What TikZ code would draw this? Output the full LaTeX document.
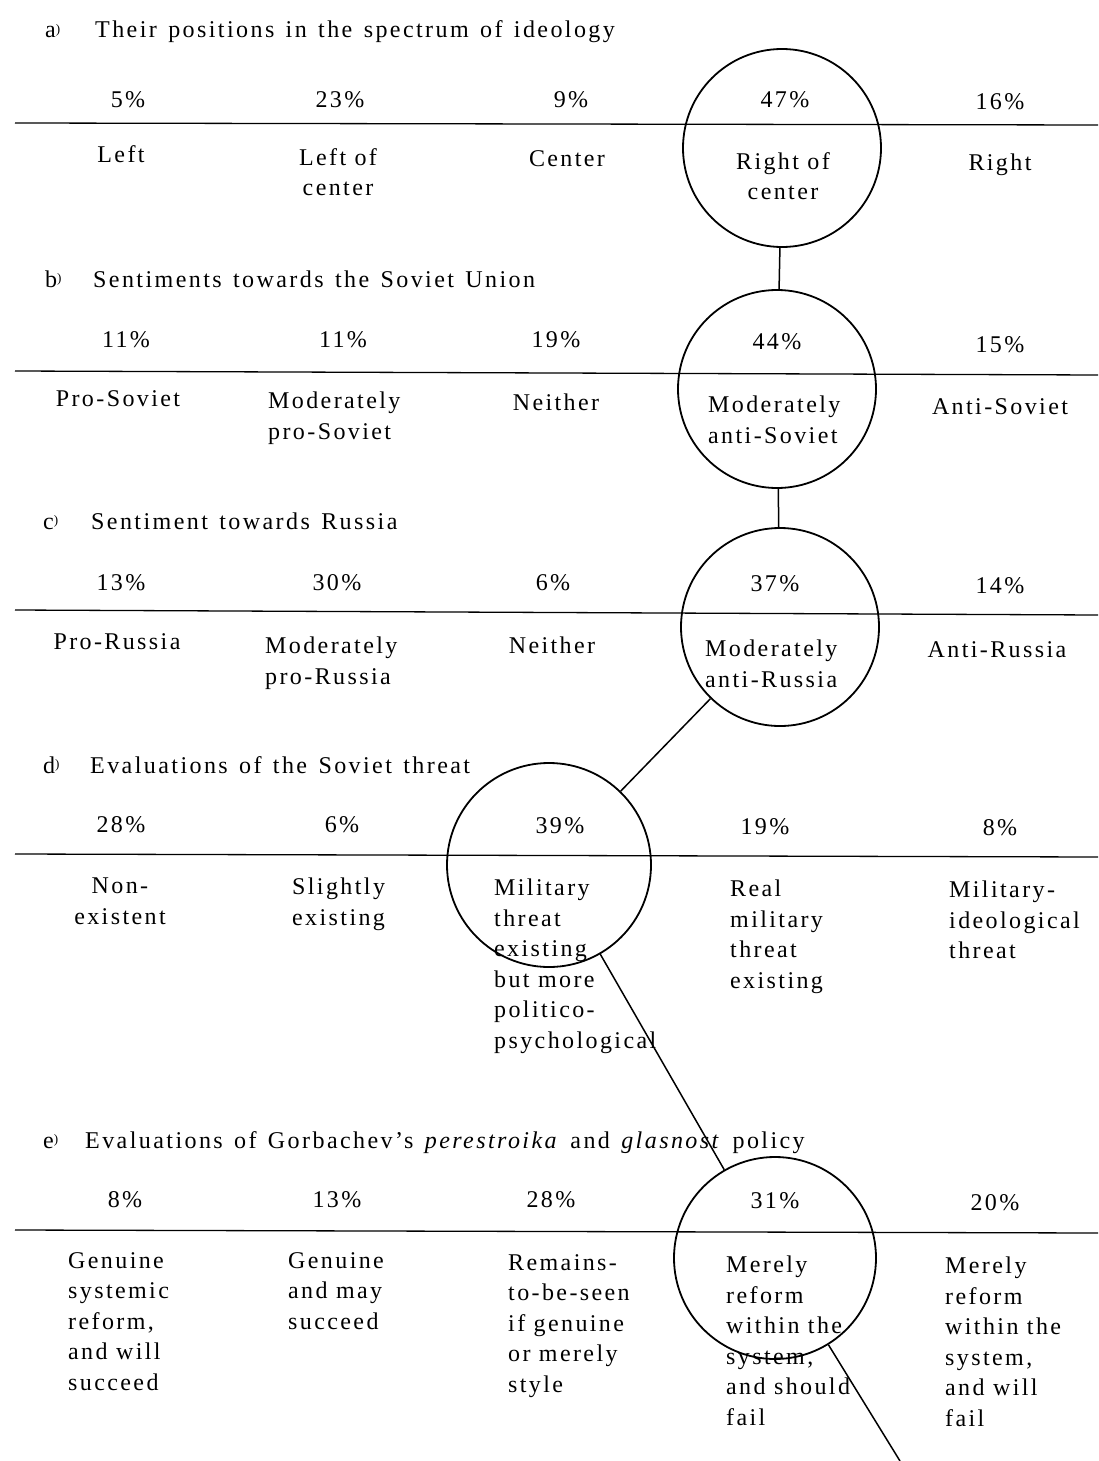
\documentclass[tikz,border=0pt]{standalone}
\usepackage{fontspec}
\setmainfont{Liberation Serif}[LetterSpace=10]
\newfontfamily\headfont{Liberation Serif}[Ligatures=TeX, LetterSpace=10, WordSpace=1.35, Scale=1.002]
\usetikzlibrary{positioning}
\newcommand{\tagmark}[1]{#1\raisebox{.45ex}{\fontsize{13}{13}\selectfont)}}
\tikzset{
  pct/.style={inner sep=0pt},
  lab/.style={anchor=north, align=center, inner sep=0pt},
  labl/.style={anchor=north west, align=left, inner sep=0pt},
  head/.style={anchor=base west, inner sep=0pt, font=\headfont\fontsize{24}{30.5}\selectfont},
  ring/.style={draw, circle, minimum size=198pt, inner sep=0pt, line width=1.8pt},
  rule/.style={line width=1.3pt},
  link/.style={line width=1.5pt}
}
\begin{document}
\begin{tikzpicture}[x=1pt, y=-1pt, font=\fontsize{24}{30.5}\selectfont]
    \useasboundingbox (0,0) rectangle (1098,1461);

    % a) ideology
    \node[head] (tagA) at (45,38) {\tagmark{a}};
    \node[head] (headA) at (95,38) {Their positions in the spectrum of ideology};
    \node[pct] (pA1) at (128,100) {5\%};
    \node[pct] (pA2) at (340,100) {23\%};
    \node[pct] (pA3) at (571,100) {9\%};
    \node[pct] (pA4) at (785,100) {47\%};
    \node[pct] (pA5) at (1000,102) {16\%};
    \draw[rule] (15,123) -- (1098,125);
    \node[lab] (lA1) at (121,145) {Left};
    \node[lab] (lA2) at (338,148) {Left of\\center};
    \node[lab] (lA3) at (567,150) {Center};
    \node[lab] (lA4) at (783,152) {Right of\\center};
    \node[lab] (lA5) at (1000,154) {Right};
    \node[ring] (cA) at (782,148) {};

    % b) Soviet Union
    \node[head] (tagB) at (45,287) {\tagmark{b}};
    \node[head] (headB) at (93,287) {Sentiments towards the Soviet Union};
    \node[pct] (pB1) at (126,340) {11\%};
    \node[pct] (pB2) at (343,340) {11\%};
    \node[pct] (pB3) at (556,340) {19\%};
    \node[pct] (pB4) at (777,342) {44\%};
    \node[pct] (pB5) at (1000,345) {15\%};
    \draw[rule] (15,371) -- (1098,375);
    \node[lab] (lB1) at (118,390) {Pro-Soviet};
    \node[labl] (lB2) at (268,392) {Moderately\\pro-Soviet};
    \node[lab] (lB3) at (556,394) {Neither};
    \node[labl] (lB4) at (708,396) {Moderately\\anti-Soviet};
    \node[lab] (lB5) at (1000,398) {Anti-Soviet};
    \node[ring] (cB) at (777,389) {};

    % c) Russia
    \node[head] (tagC) at (43,529) {\tagmark{c}};
    \node[head] (headC) at (91,529) {Sentiment towards Russia};
    \node[pct] (pC1) at (121,583) {13\%};
    \node[pct] (pC2) at (337,583) {30\%};
    \node[pct] (pC3) at (553,583) {6\%};
    \node[pct] (pC4) at (775,584) {37\%};
    \node[pct] (pC5) at (1000,586) {14\%};
    \draw[rule] (15,610) -- (1098,615);
    \node[lab] (lC1) at (117,633) {Pro-Russia};
    \node[labl] (lC2) at (265,637) {Moderately\\pro-Russia};
    \node[lab] (lC3) at (552,637) {Neither};
    \node[labl] (lC4) at (705,640) {Moderately\\anti-Russia};
    \node[lab] (lC5) at (997,641) {Anti-Russia};
    \node[ring] (cC) at (780,627) {};

    % d) Soviet threat
    \node[head] (tagD) at (43,773) {\tagmark{d}};
    \node[head] (headD) at (90,773) {Evaluations of the Soviet threat};
    \node[pct] (pD1) at (121,825) {28\%};
    \node[pct] (pD2) at (342,825) {6\%};
    \node[pct] (pD3) at (560,826) {39\%};
    \node[pct] (pD4) at (765,827) {19\%};
    \node[pct] (pD5) at (1000,828) {8\%};
    \draw[rule] (15,854) -- (1098,857);
    \node[lab] (lD1) at (120,878) {Non-\\existent};
    \node[labl] (lD2) at (292,878) {Slightly\\existing};
    \node[labl] (lD3) at (494,879) {Military\\threat\\existing\\but more\\politico-\\psychological};
    \node[labl] (lD4) at (730,880) {Real\\military\\threat\\existing};
    \node[labl] (lD5) at (949,881) {Military-\\ideological\\threat};
    \node[ring, minimum size=204pt] (cD) at (549,865) {};

    % e) perestroika and glasnost
    \node[head] (tagE) at (43,1148) {\tagmark{e}};
    \node[head] (headE) at (85,1148) {Evaluations of Gorbachev’s \textit{perestroika} and \textit{glasnost} policy};
    \node[pct] (pE1) at (125,1200) {8\%};
    \node[pct] (pE2) at (337,1200) {13\%};
    \node[pct] (pE3) at (551,1200) {28\%};
    \node[pct] (pE4) at (775,1201) {31\%};
    \node[pct] (pE5) at (995,1203) {20\%};
    \draw[rule] (15,1230) -- (1098,1233);
    \node[labl] (lE1) at (68,1252) {Genuine\\systemic\\reform,\\and will\\succeed};
    \node[labl] (lE2) at (288,1252) {Genuine\\and may\\succeed};
    \node[labl] (lE3) at (508,1254) {Remains-\\to-be-seen\\if genuine\\or merely\\style};
    \node[labl] (lE4) at (726,1256) {Merely\\reform\\within the\\system,\\and should\\fail};
    \node[labl] (lE5) at (945,1257) {Merely\\reform\\within the\\system,\\and will\\fail};
    \node[ring, minimum size=202pt] (cE) at (775,1258) {};

    % links between the chosen answers
    \coordinate (tail) at (900,1461);
    \draw[link] (cA) -- (cB);
    \draw[link] (cB) -- (cC);
    \draw[link] (cC) -- (cD);
    \draw[link] (cD) -- (cE);
    \draw[link] (cE) -- (tail);
\end{tikzpicture}
\end{document}
